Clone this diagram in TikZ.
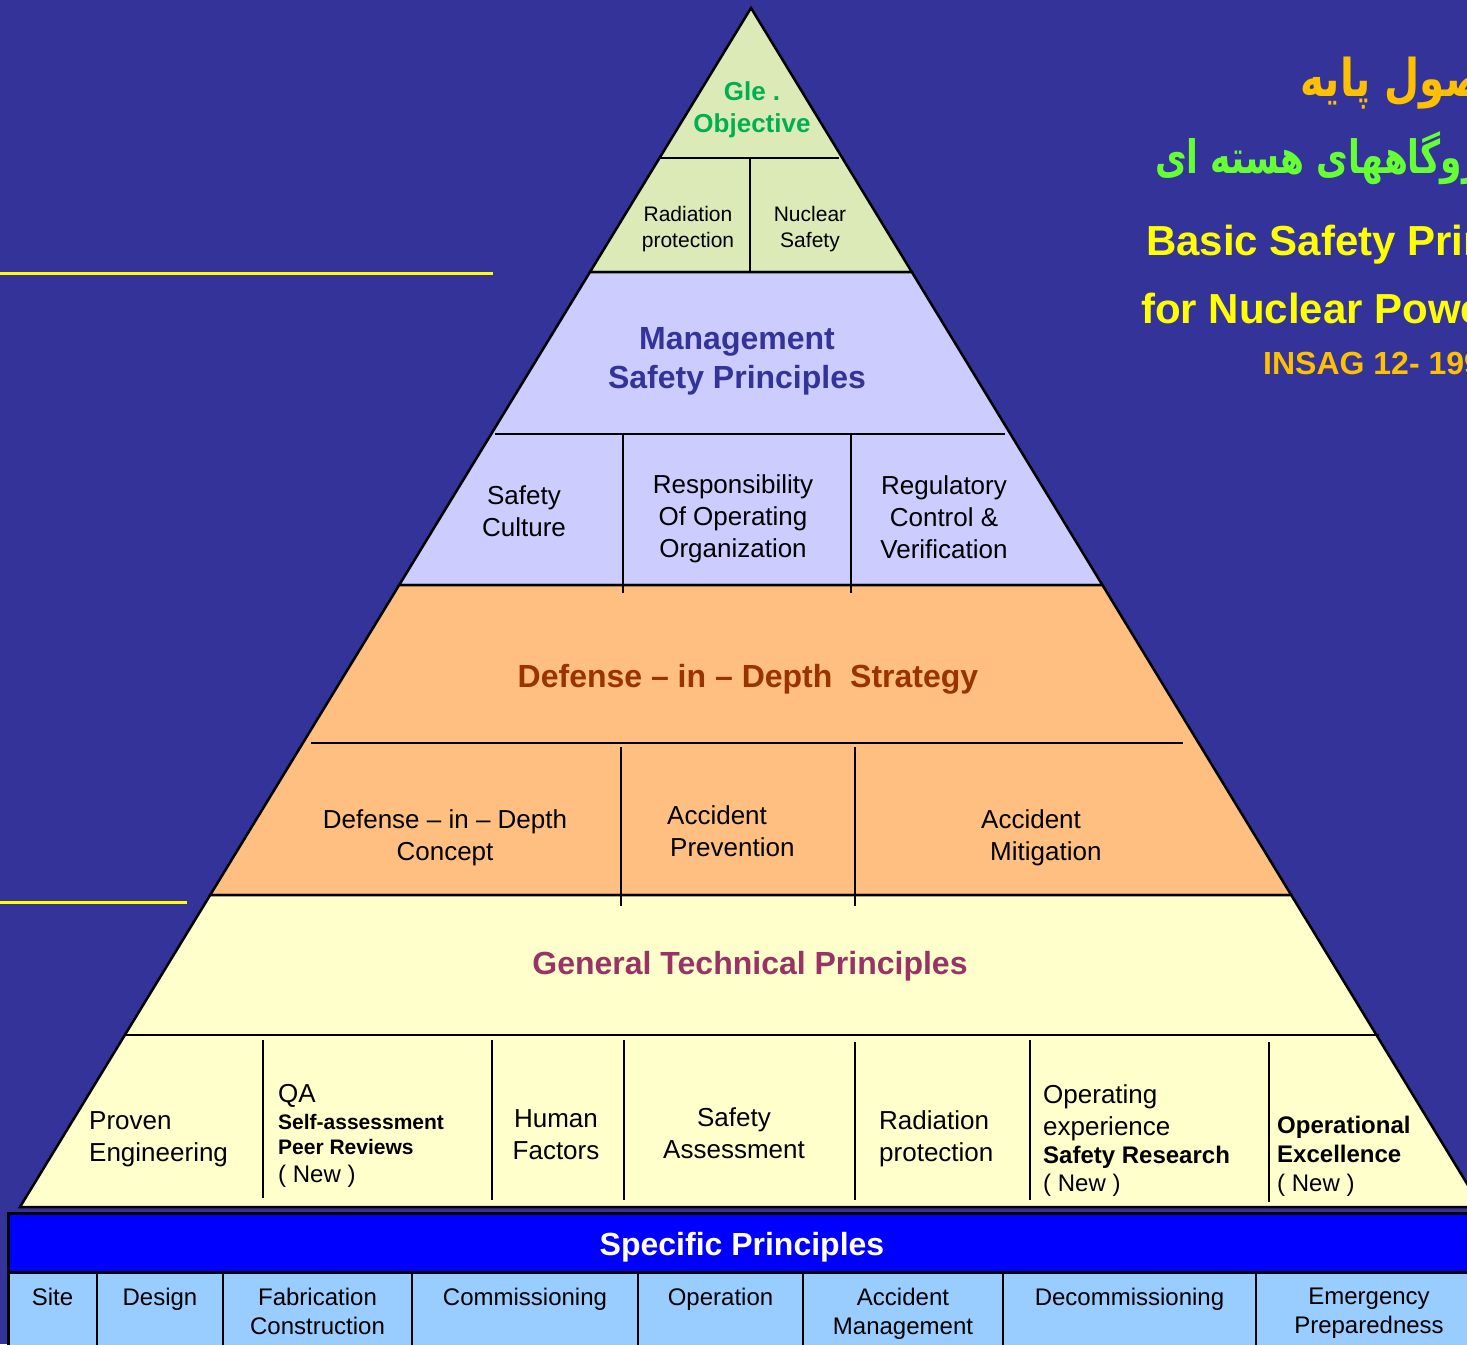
\documentclass[tikz,border=0pt]{standalone}
\usepackage{fontspec}
\setmainfont{Liberation Sans}
\newfontfamily\farsifont[Script=Arabic]{DejaVu Sans}
\TeXXeTstate=1

\definecolor{bg}{HTML}{333399}
\definecolor{tiergreen}{HTML}{DCEAB8}
\definecolor{tierlav}{HTML}{CCCCFF}
\definecolor{tierorange}{HTML}{FFBF80}
\definecolor{tieryellow}{HTML}{FFFFCC}
\definecolor{specblue}{HTML}{0000FF}
\definecolor{cellblue}{HTML}{99CCFF}
\definecolor{mgmtblue}{HTML}{333399}
\definecolor{didbrown}{HTML}{993300}
\definecolor{gtpplum}{HTML}{993366}
\definecolor{objgreen}{HTML}{00B050}
\definecolor{titleyellow}{HTML}{FFFF00}
\definecolor{titleorange}{HTML}{FFC000}
\definecolor{fagreen}{HTML}{66FF33}

\newcommand\pxfont[2]{\fontsize{#1}{#2}\selectfont}

\begin{document}
\begin{tikzpicture}[x=1pt,y=-1pt,
  every node/.style={inner sep=0pt},
  band/.style={draw=black, line width=2.5pt, line join=miter},
  rule/.style={draw=black, line width=2pt},
  body/.style={font=\pxfont{26}{32}, align=center, text=black},
  small/.style={font=\pxfont{21}{26}, align=center, text=black},
  heading/.style={font=\pxfont{32}{39}\bfseries, align=center},
  cell/.style={font=\pxfont{24}{29}, align=center, anchor=north, text=black},
  line26/.style={font=\pxfont{26}{32}, anchor=base west, text=black},
  bold21/.style={font=\pxfont{21}{26}\bfseries, anchor=base west, text=black},
  bold24/.style={font=\pxfont{24}{29}\bfseries, anchor=base west, text=black},
  new24/.style={font=\pxfont{24}{29}, anchor=base west, text=black},
  title/.style={font=\pxfont{42}{48}\bfseries, anchor=base west},
  farsi/.style={anchor=base west}]

\useasboundingbox (0,0) rectangle (1467,1344);
\fill[bg] (0,0) rectangle (1467,1344);

% yellow guide lines on the left
\draw[titleyellow, line width=3pt] (0,273) -- (493,273);
\draw[titleyellow, line width=3pt] (0,902) -- (187,902);

% pyramid tiers
\filldraw[band, fill=tiergreen]  (751,8) -- (911.8,272) -- (590,272) -- cycle;
\filldraw[band, fill=tierlav]    (590,272) -- (911.8,272) -- (1102.4,585) -- (399.2,585) -- cycle;
\filldraw[band, fill=tierorange] (399.2,585) -- (1102.4,585) -- (1291.2,895) -- (210.2,895) -- cycle;
\filldraw[band, fill=tieryellow] (210.2,895) -- (1291.2,895) -- (1481.2,1207) -- (20,1207) -- cycle;

% inner rules of the top tier
\draw[rule] (660,158) -- (839,158);
\draw[rule] (750,158) -- (750,272);
% inner rules of the management tier
\draw[rule] (495,434) -- (1005,434);
\draw[rule] (623,434) -- (623,593);
\draw[rule] (851,434) -- (851,593);
% inner rules of the defence tier
\draw[rule] (311,743) -- (1183,743);
\draw[rule] (621,747) -- (621,906);
\draw[rule] (855,747) -- (855,906);
% inner rules of the technical tier
\draw[rule] (124,1035) -- (1379,1035);
\foreach \xx/\ya/\yb in {263/1040/1198, 492/1040/1200, 624/1040/1200,
                          855/1042/1200, 1030/1040/1200, 1269/1042/1202}
  \draw[rule] (\xx,\ya) -- (\xx,\yb);

% specific principles table
\filldraw[draw=black, line width=3pt, fill=specblue] (8,1213) rectangle (1480,1272);
\filldraw[draw=black, line width=3pt, fill=cellblue] (8,1272) rectangle (1480,1352);
\foreach \xx in {97,223,412,638,803,1003,1256}
  \draw[black, line width=2.5pt] (\xx,1272) -- (\xx,1352);

% top tier texts
\node[font=\pxfont{26}{32}\bfseries, text=objgreen, align=center] (objective) at (752,110) {Gle .\\Objective};
\node[small] (radprot) at (688,229) {Radiation\\protection};
\node[small] (nucsafe) at (810,229) {Nuclear\\Safety};

% management tier texts
\node[heading, text=mgmtblue] (mgmt) at (737,361) {Management\\Safety Principles};
\node[body] (culture) at (524,511) {Safety\\Culture};
\node[body] (respons) at (733,519) {Responsibility\\Of Operating\\Organization};
\node[body] (regul) at (944,517) {Regulatory\\Control \&\\Verification};

% defence tier texts
\node[heading, text=didbrown] (did) at (748,679) {Defense – in – Depth\ \ Strategy};
\node[body] (didconcept) at (445,838) {Defense – in – Depth\\Concept};
\node[body, align=left, anchor=west] (prevent) at (667,831) {Accident\\\hspace*{3pt}Prevention};
\node[body, align=left, anchor=west] (mitig) at (981,838) {Accident\\\hspace*{9pt}Mitigation};

% technical tier texts
\node[heading, text=gtpplum] (gtp) at (750,966) {General Technical Principles};
\node[body, align=left, anchor=west] (proven) at (89,1139) {Proven\\Engineering};
\node[line26] (qa) at (278,1102) {QA};
\node[bold21] (selfas) at (278,1129) {Self-assessment};
\node[bold21] (peer) at (278,1154) {Peer Reviews};
\node[new24] (qanew) at (278,1182) {( New )};
\node[body] (human) at (556,1135) {Human\\Factors};
\node[body] (safeas) at (734,1133) {Safety\\Assessment};
\node[body, align=left, anchor=west] (radprot2) at (879,1139) {Radiation\\protection};
\node[line26] (operat) at (1043,1103) {Operating};
\node[line26] (experi) at (1043,1135) {experience};
\node[bold24] (research) at (1043,1163) {Safety Research};
\node[new24] (resnew) at (1043,1191) {( New )};
\node[bold24] (opex1) at (1277,1133) {Operational};
\node[bold24] (opex2) at (1277,1162) {Excellence};
\node[new24] (opexnew) at (1277,1191) {( New )};

% specific principles
\node[heading, text=white] (specific) at (742,1247) {Specific Principles};
\node[cell] (site) at (52.5,1288) {Site};
\node[cell] (design) at (160,1288) {Design};
\node[cell] (fabric) at (317.5,1288) {Fabrication\\Construction};
\node[cell] (commis) at (525,1288) {Commissioning};
\node[cell] (operation) at (720.5,1288) {Operation};
\node[cell] (accmgmt) at (903,1288) {Accident\\Management};
\node[cell] (decommis) at (1129.5,1288) {Decommissioning};
\node[cell] (emerg) at (1369,1288) {Emergency\\Preparedness};

% titles at the right
\node[farsi, text=titleorange] (fa1) at (1300,96)
  {\scalebox{0.78}[1]{\pxfont{52}{60}\farsifont\bfseries\beginR اصول پایه\endR}};
\node[farsi, text=fagreen] (fa2) at (1155,173)
  {\scalebox{0.75}[1]{\pxfont{46}{52}\farsifont\bfseries\beginR نیروگاههای هسته ای\endR}};
\node[title, text=titleyellow] (basic) at (1146,255) {Basic Safety Principles};
\node[title, text=titleyellow] (fornpp) at (1141,323) {for Nuclear Power Plants};
\node[font=\pxfont{32}{38}\bfseries, anchor=base west, text=titleorange] (insag) at (1263,374) {INSAG 12- 1999};

\end{tikzpicture}
\end{document}
